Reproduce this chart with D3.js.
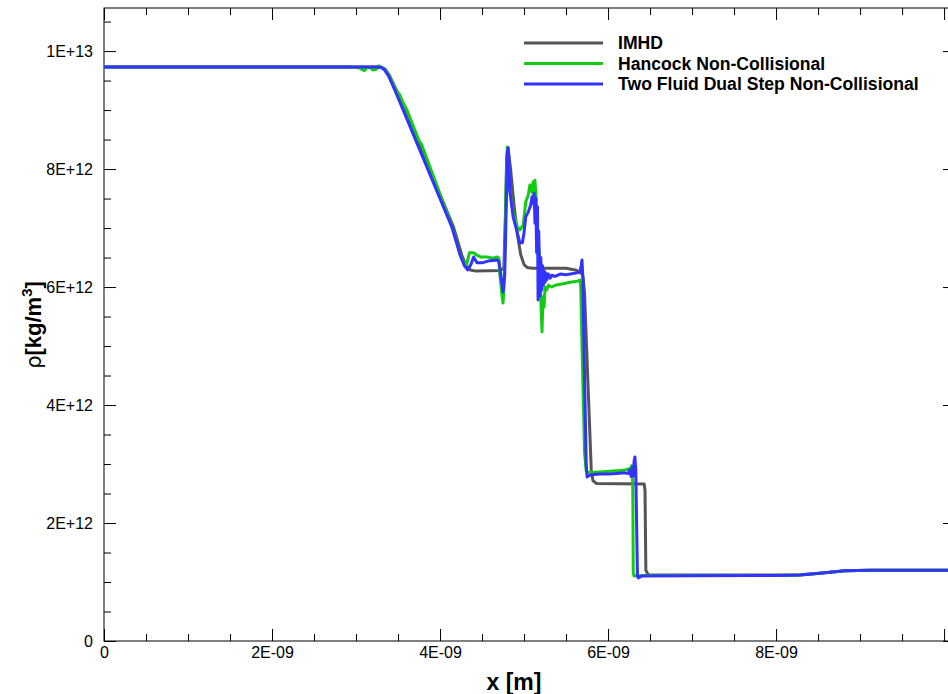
<!DOCTYPE html>
<html>
<head>
<meta charset="utf-8">
<script src="https://cdn.jsdelivr.net/npm/d3@7"></script>
<style>
  html, body { margin: 0; padding: 0; background: #fff; overflow: hidden; }
  svg { display: block; font-family: "Liberation Sans", Arial, sans-serif; }
</style>
</head>
<body>
<svg id="chart" width="948" height="694"></svg>
<script>
// Density profiles along x. Positions in units of 1e-9 m, density in units of 1e12 kg/m^3.
const X_UNIT = 1e-9;
const RHO_UNIT = 1e12;
const X_MAX = 10.13;   // right edge of the plotted range (1e-9 m)
const RHO_MAX = 10.73; // top edge of the plotted range (1e12 kg/m^3)

const seriesNames = ["IMHD", "Hancock Non-Collisional", "Two Fluid Dual Step Non-Collisional"];
const seriesColors = ["#555555", "#11cc11", "#3333ff"];

const imhdX = [0, 3.26, 3.31, 3.35, 3.40, 3.49, 4.16, 4.26, 4.31, 4.36, 4.43, 4.71, 4.76, 4.78, 4.795, 4.81,
  4.84, 4.88, 4.92, 4.96, 5.00, 5.04, 5.10, 5.50, 5.61, 5.67, 5.70, 5.72, 5.80, 5.82, 5.86, 6.43, 6.44, 6.45,
  6.48, 8.17, 8.29, 8.52, 8.82, 9.12, X_MAX];
const imhdRho = [9.73, 9.73, 9.72, 9.69, 9.58, 9.31, 7.02, 6.54, 6.36, 6.29, 6.27, 6.28, 6.32, 7.30, 8.20, 8.36,
  8.00, 7.40, 6.90, 6.55, 6.38, 6.33, 6.32, 6.32, 6.29, 6.25, 6.20, 5.90, 2.90, 2.72, 2.67, 2.66, 2.56, 1.20,
  1.12, 1.12, 1.125, 1.15, 1.19, 1.20, 1.20];

const hancockX = [0, 2.99, 3.05, 3.08, 3.10, 3.13, 3.17, 3.20, 3.24, 3.27, 3.31, 3.35, 3.40, 3.48, 3.52, 3.56,
  3.60, 3.75, 3.78, 3.90, 4.14, 4.24, 4.30, 4.32, 4.35, 4.40, 4.44, 4.48, 4.56, 4.63, 4.68, 4.70, 4.71, 4.74,
  4.75, 4.76, 4.78, 4.79, 4.80, 4.81, 4.83, 4.87, 4.92, 4.95, 4.99, 5.02, 5.05, 5.07, 5.095, 5.107, 5.12, 5.13,
  5.143, 5.155, 5.167, 5.179, 5.19, 5.20, 5.214, 5.226, 5.238, 5.25, 5.27, 5.29, 5.33, 5.37, 5.45, 5.55, 5.64,
  5.665, 5.675, 5.69, 5.72, 5.74, 5.76, 5.85, 5.95, 6.05, 6.15, 6.20, 6.24, 6.26, 6.27, 6.28, 6.29, 6.295,
  6.30, 6.31, 6.40, 8.00, 8.17, 8.29, 8.52, 8.82, 9.12, X_MAX];
const hancockRho = [9.73, 9.73, 9.71, 9.68, 9.67, 9.72, 9.72, 9.68, 9.69, 9.75, 9.72, 9.68, 9.57, 9.33, 9.26, 9.12,
  9.02, 8.48, 8.42, 7.96, 7.04, 6.55, 6.36, 6.40, 6.58, 6.58, 6.54, 6.51, 6.51, 6.49, 6.51, 6.49, 6.25, 5.83,
  5.73, 5.95, 7.20, 8.00, 8.37, 8.30, 7.64, 7.27, 7.02, 6.97, 7.05, 7.44, 7.56, 7.73, 7.60, 7.78, 7.58, 7.81,
  7.52, 7.02, 6.68, 6.63, 6.34, 5.78, 5.24, 5.83, 5.66, 6.00, 5.95, 6.03, 6.00, 6.03, 6.05, 6.08, 6.10,
  6.12, 6.00, 5.00, 3.20, 2.88, 2.86, 2.86, 2.87, 2.88, 2.89, 2.90, 2.91, 2.93, 2.88, 2.97, 2.90, 2.50,
  1.15, 1.10, 1.11, 1.11, 1.115, 1.12, 1.15, 1.19, 1.20, 1.20];

const twoFluidX = [0, 3.25, 3.30, 3.34, 3.39, 3.47, 4.14, 4.24, 4.29, 4.33, 4.37, 4.40, 4.44, 4.50, 4.57, 4.68,
  4.70, 4.74, 4.75, 4.77, 4.79, 4.80, 4.81, 4.82, 4.83, 4.87, 4.92, 4.95, 4.98, 5.00, 5.02, 5.05, 5.08, 5.095,
  5.11, 5.12, 5.13, 5.14, 5.15, 5.16, 5.167, 5.175, 5.19, 5.20, 5.21, 5.22, 5.23, 5.24, 5.25, 5.26, 5.27, 5.29,
  5.31, 5.33, 5.37, 5.43, 5.50, 5.55, 5.63, 5.66, 5.68, 5.69, 5.70, 5.72, 5.74, 5.75, 5.77, 5.80, 5.90, 6.00,
  6.10, 6.20, 6.24, 6.26, 6.275, 6.29, 6.30, 6.31, 6.32, 6.33, 6.34, 6.35, 6.36, 6.40, 7.00, 8.00, 8.17, 8.29,
  8.52, 8.82, 9.12, X_MAX];
const twoFluidRho = [9.73, 9.73, 9.72, 9.68, 9.57, 9.31, 7.02, 6.54, 6.36, 6.29, 6.39, 6.51, 6.41, 6.41, 6.44, 6.46,
  6.44, 6.03, 5.92, 6.20, 7.47, 8.24, 8.36, 8.15, 7.64, 7.19, 6.92, 6.75, 6.75, 6.92, 7.19, 7.27, 7.39, 7.53,
  7.42, 7.59, 7.08, 7.51, 6.58, 7.36, 5.78, 6.95, 5.85, 6.50, 5.95, 6.36, 6.03, 6.27, 6.08, 6.24, 6.12, 6.22,
  6.15, 6.20, 6.18, 6.22, 6.21, 6.22, 6.24, 6.25, 6.35, 6.46, 6.15, 4.50, 3.00, 2.78, 2.80, 2.82, 2.83, 2.83,
  2.84, 2.85, 2.84, 2.90, 2.79, 2.95, 2.80, 3.05, 3.12, 2.90, 2.00, 1.10, 1.07, 1.10, 1.105, 1.11, 1.115, 1.12,
  1.15, 1.19, 1.20, 1.20];

const seriesX = [imhdX, hancockX, twoFluidX];
const seriesRho = [imhdRho, hancockRho, twoFluidRho];

// Axis ticks (positions in the same units as the data) and their labels
const xMajorTicks = [0, 2, 4, 6, 8, 10];
const xTickLabels = ["0", "2E-09", "4E-09", "6E-09", "8E-09", ""];
const xMinorTicks = [0.5, 1, 1.5, 2.5, 3, 3.5, 4.5, 5, 5.5, 6.5, 7, 7.5, 8.5, 9, 9.5];
const yMajorTicks = [0, 2, 4, 6, 8, 10];
const yTickLabels = ["0", "2E+12", "4E+12", "6E+12", "8E+12", "1E+13"];
const yMinorTicks = [0.5, 1, 1.5, 2.5, 3, 3.5, 4.5, 5, 5.5, 6.5, 7, 7.5, 8.5, 9, 9.5, 10.5];

const plot = { left: 104, right: 955, top: 8, bottom: 641 };
const MAJOR = 12, MINOR = 7;

const svg = d3.select("#chart");

const x = d3.scaleLinear().domain([0, X_MAX * X_UNIT]).range([plot.left, plot.right]);
const y = d3.scaleLinear().domain([0, RHO_MAX * RHO_UNIT]).range([plot.bottom, plot.top]);

const labelFor = (values, labels) => v => labels[values.findIndex(t => Math.abs(t - v) < 1e-9)] || "";

// Frame
svg.append("rect")
  .attr("x", plot.left).attr("y", plot.top)
  .attr("width", plot.right - plot.left).attr("height", plot.bottom - plot.top)
  .attr("fill", "none").attr("stroke", "#000").attr("stroke-width", 1);

function styleAxis(g) {
  g.select(".domain").remove();
  g.selectAll(".tick line").attr("stroke", "#000").attr("stroke-width", 1);
  g.selectAll(".tick text").attr("fill", "#000").attr("font-size", 16);
}

// Bottom axis
svg.append("g").attr("transform", `translate(0,${plot.bottom})`)
  .call(d3.axisBottom(x).tickValues(xMajorTicks.map(v => v * X_UNIT))
    .tickSize(-MAJOR).tickPadding(6)
    .tickFormat(v => labelFor(xMajorTicks, xTickLabels)(v / X_UNIT)))
  .call(styleAxis);
svg.append("g").attr("transform", `translate(0,${plot.bottom})`)
  .call(d3.axisBottom(x).tickValues(xMinorTicks.map(v => v * X_UNIT)).tickSize(-MINOR).tickFormat(""))
  .call(styleAxis);
// Top axis
svg.append("g").attr("transform", `translate(0,${plot.top})`)
  .call(d3.axisTop(x).tickValues(xMajorTicks.map(v => v * X_UNIT)).tickSize(-MAJOR).tickFormat(""))
  .call(styleAxis);
svg.append("g").attr("transform", `translate(0,${plot.top})`)
  .call(d3.axisTop(x).tickValues(xMinorTicks.map(v => v * X_UNIT)).tickSize(-MINOR).tickFormat(""))
  .call(styleAxis);
// Left axis
svg.append("g").attr("transform", `translate(${plot.left},0)`)
  .call(d3.axisLeft(y).tickValues(yMajorTicks.map(v => v * RHO_UNIT))
    .tickSize(-MAJOR).tickPadding(11)
    .tickFormat(v => labelFor(yMajorTicks, yTickLabels)(v / RHO_UNIT)))
  .call(styleAxis);
svg.append("g").attr("transform", `translate(${plot.left},0)`)
  .call(d3.axisLeft(y).tickValues(yMinorTicks.map(v => v * RHO_UNIT)).tickSize(-MINOR).tickFormat(""))
  .call(styleAxis);
// Right axis
svg.append("g").attr("transform", `translate(${plot.right},0)`)
  .call(d3.axisRight(y).tickValues(yMajorTicks.map(v => v * RHO_UNIT)).tickSize(-MAJOR).tickFormat(""))
  .call(styleAxis);
svg.append("g").attr("transform", `translate(${plot.right},0)`)
  .call(d3.axisRight(y).tickValues(yMinorTicks.map(v => v * RHO_UNIT)).tickSize(-MINOR).tickFormat(""))
  .call(styleAxis);

// Curves
svg.append("clipPath").attr("id", "plot-clip").append("rect")
  .attr("x", plot.left).attr("y", plot.top - 5)
  .attr("width", plot.right - plot.left).attr("height", plot.bottom - plot.top + 10);

const curves = svg.append("g").attr("clip-path", "url(#plot-clip)");
seriesNames.forEach((name, s) => {
  const xs = seriesX[s], rs = seriesRho[s];
  const line = d3.line()
    .x((d, i) => x(xs[i] * X_UNIT))
    .y((d, i) => y(rs[i] * RHO_UNIT));
  curves.append("path")
    .datum(xs)
    .attr("d", line)
    .attr("fill", "none")
    .attr("stroke", seriesColors[s])
    .attr("stroke-width", 3)
    .attr("stroke-linejoin", "round")
    .attr("stroke-linecap", "round");
});

// Legend
const legend = svg.append("g").attr("transform", "translate(524,43)");
seriesNames.forEach((name, s) => {
  const row = legend.append("g").attr("transform", `translate(0,${s * 20.5})`);
  row.append("line").attr("x1", 0).attr("x2", 79).attr("y1", 0).attr("y2", 0)
    .attr("stroke", seriesColors[s]).attr("stroke-width", 3);
  row.append("text").attr("x", 94).attr("y", 0).attr("dy", "0.36em")
    .attr("font-size", 17.6).attr("font-weight", "bold").attr("fill", "#000").text(name);
});

// Axis titles
svg.append("text")
  .attr("x", 514).attr("y", 690)
  .attr("text-anchor", "middle")
  .attr("font-size", 23).attr("font-weight", "bold").attr("fill", "#000")
  .text("x [m]");

const yTitle = svg.append("text")
  .attr("transform", "translate(41,325) rotate(-90)")
  .attr("text-anchor", "middle")
  .attr("font-size", 22).attr("fill", "#000");
yTitle.append("tspan").attr("font-family", "'DejaVu Sans', sans-serif").attr("font-size", 21).text("ρ");
yTitle.append("tspan").attr("font-weight", "bold").text("[kg/m");
yTitle.append("tspan").attr("font-weight", "bold").attr("font-size", 15).attr("dy", "-9").text("3");
yTitle.append("tspan").attr("font-weight", "bold").attr("dy", "9").text("]");
</script>
</body>
</html>
